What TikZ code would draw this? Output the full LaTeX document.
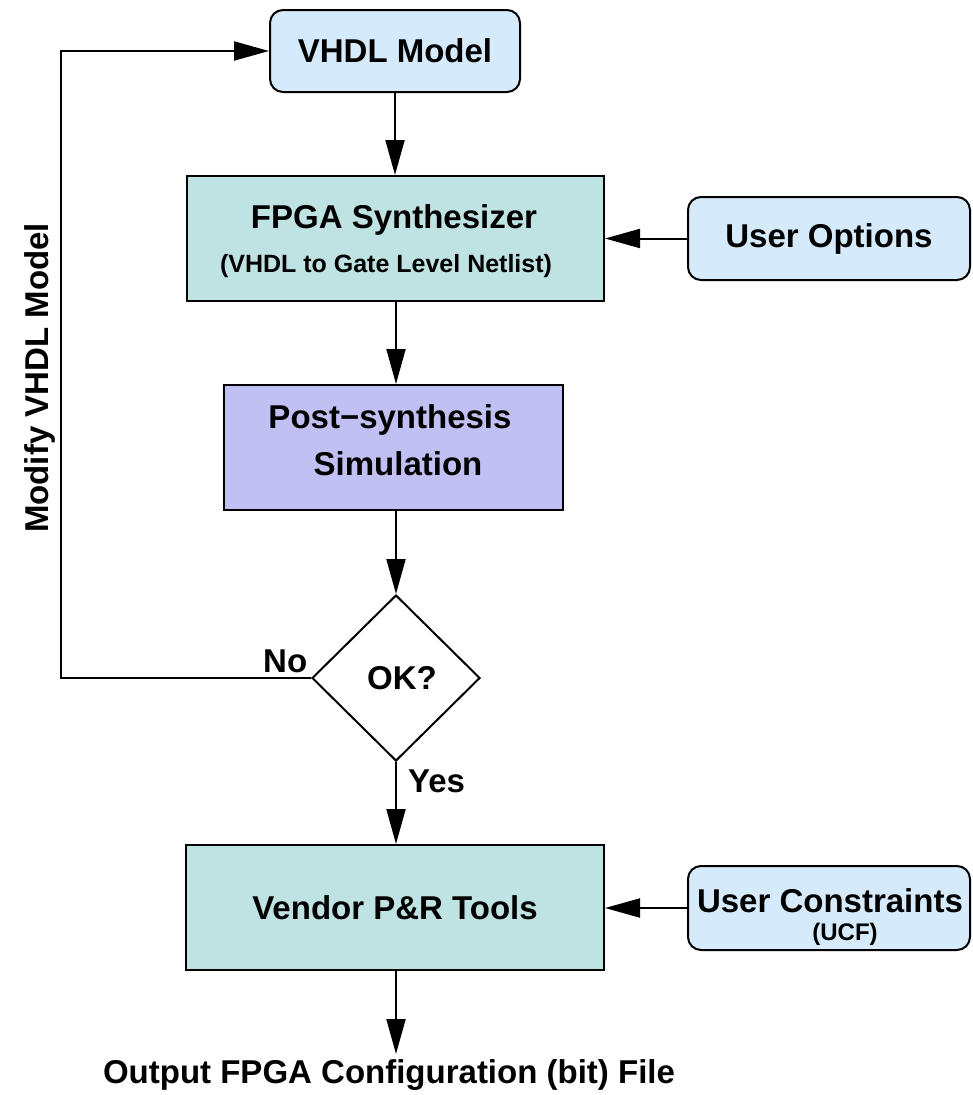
\documentclass[tikz,border=0pt]{standalone}
\usepackage{fontspec}
\setmainfont{Liberation Sans}
\usetikzlibrary{arrows.meta,shapes.geometric}
\definecolor{lblue}{HTML}{D5EBFC}
\definecolor{lteal}{HTML}{BFE3E2}
\definecolor{lpurple}{HTML}{C1C0F2}
\tikzset{
  big/.style={font=\bfseries\fontsize{33}{40}\selectfont},
  mid/.style={font=\bfseries\fontsize{25}{30}\selectfont},
  sml/.style={font=\bfseries\fontsize{24}{29}\selectfont},
  box/.style={draw=black, line width=2pt, inner sep=0pt, big},
  rbox/.style={box, rounded corners=13pt, fill=lblue},
  tbox/.style={box, fill=lteal},
  pbox/.style={box, fill=lpurple},
  arr/.style={line width=2pt, -{Triangle[length=35pt,width=19pt]}},
  lbl/.style={big, inner sep=0pt},
}
\begin{document}
\begin{tikzpicture}[x=1pt,y=-1pt]
\useasboundingbox (0,0) rectangle (972,1095);

% boxes
\node[rbox, minimum width=250pt, minimum height=82pt] (vhdl) at (395,51) {VHDL Model};
\node[tbox, minimum width=417pt, minimum height=125pt] (synth) at (395.5,238.5) {};
\node[rbox, minimum width=282pt, minimum height=83pt] (opts) at (829,238.5) {User Options};
\node[pbox, minimum width=339pt, minimum height=125pt] (post) at (393.5,447.5) {};
\node[draw=black, line width=2pt, diamond, inner sep=0pt, minimum width=168pt, minimum height=166pt, big] (ok) at (396,678) {\hspace*{12pt}OK?};
\node[tbox, minimum width=418pt, minimum height=125pt] (vendor) at (395,907.5) {Vendor P\&R Tools};
\node[rbox, minimum width=282pt, minimum height=84pt] (ucf) at (829,908) {};

% multi-line texts, one node per line
\node[lbl, anchor=base] (synthA) at (394,228) {FPGA Synthesizer};
\node[lbl, mid, anchor=base] (synthB) at (386,272) {(VHDL to Gate Level Netlist)};
\node[lbl, anchor=base] (postA) at (390,428) {Post−synthesis};
\node[lbl, anchor=base] (postB) at (398,475) {Simulation};
\node[lbl, anchor=base] (ucfA) at (830,912) {User Constraints};
\node[lbl, sml, anchor=base] (ucfB) at (845,940) {(UCF)};

% labels
\node[lbl, anchor=base west] (no) at (263,672) {No};
\node[lbl, anchor=base west] (yes) at (408,792) {Yes};
\node[lbl, anchor=base] (out) at (389,1083) {Output FPGA Configuration (bit) File};
\node[lbl, anchor=base, rotate=90] (modify) at (48,378) {Modify VHDL Model};

\coordinate (outtip) at (396,1054);
\coordinate (corner) at (61,678);

% connectors
\draw[arr] (vhdl.south) -- (synth.north -| vhdl.south);
\draw[arr] (opts.west) -- (synth.east |- opts.west);
\draw[arr] (synth.south -| ok.north) -- (post.north -| ok.north);
\draw[arr] (post.south -| ok.north) -- (ok.north);
\draw[arr] (ok.south) -- (vendor.north -| ok.south);
\draw[arr] (ucf.west) -- (vendor.east |- ucf.west);
\draw[arr] (vendor.south -| ok.south) -- (outtip);
\draw[arr] (ok.west) -- (corner) |- (vhdl.west);
\end{tikzpicture}
\end{document}
